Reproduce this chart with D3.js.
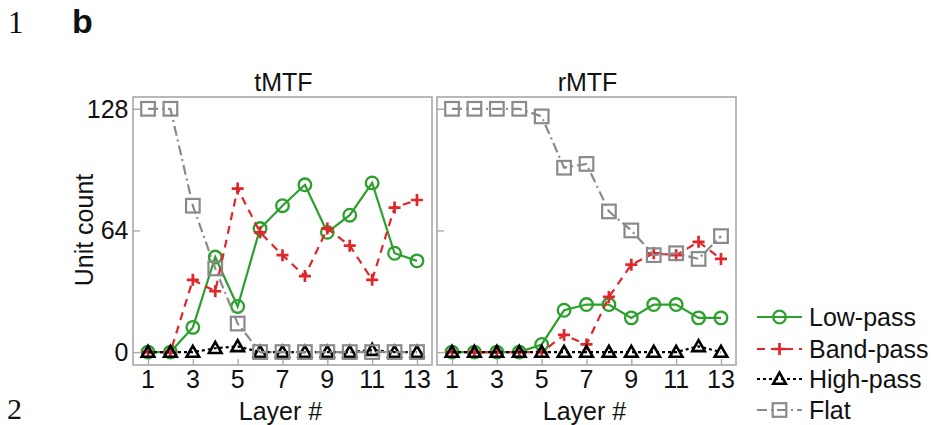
<!DOCTYPE html>
<html>
<head>
<meta charset="utf-8">
<script src="https://cdn.jsdelivr.net/npm/d3@7"></script>
<style>
  html, body { margin: 0; padding: 0; background: #fff; }
  svg { display: block; font-family: "Liberation Sans", Arial, sans-serif; }
</style>
</head>
<body>
<svg id="chart" width="931" height="425"></svg>
<script>
// Layers of the network (x axis)
const layers = [1, 2, 3, 4, 5, 6, 7, 8, 9, 10, 11, 12, 13];
const xTickValues = [1, 3, 5, 7, 9, 11, 13];
const yTickValues = [0, 64, 128];
const panelTitles = ["tMTF", "rMTF"];
const seriesNames = ["Low-pass", "Band-pass", "High-pass", "Flat"];

// Unit counts per layer, temporal MTF
const tLow  = [0, 0, 13, 50, 24, 65, 77, 88, 63, 72, 89, 52, 48];
const tBand = [0, 0, 38, 32, 86, 63, 51, 40, 65, 56, 38, 76, 80];
const tHigh = [0, 0, 0, 2, 3, 0, 0, 0, 0, 0, 1, 0, 0];
const tFlat = [128, 128, 77, 44, 15, 0, 0, 0, 0, 0, 0, 0, 0];

// Unit counts per layer, rate MTF
const rLow  = [0, 0, 0, 0, 4, 22, 25, 25, 18, 25, 25, 18, 18];
const rBand = [0, 0, 0, 0, 0, 9, 4, 29, 46, 52, 51, 58, 49];
const rHigh = [0, 0, 0, 0, 0, 0, 0, 0, 0, 0, 0, 3, 0];
const rFlat = [128, 128, 128, 128, 124, 97, 99, 74, 64, 51, 52, 49, 61];

const panelData = [
  [tLow, tBand, tHigh, tFlat],
  [rLow, rBand, rHigh, rFlat]
];

const styles = [
  { color: "#2ca02c", dash: null,       marker: "circle" },
  { color: "#e0262b", dash: "8,6",      marker: "plus" },
  { color: "#000000", dash: "3,3",      marker: "triangle" },
  { color: "#8a8a8a", dash: "10,4,2,4", marker: "square" }
];

const svg = d3.select("#chart");
const frameColor = "#a9a9a9";
const textColor = "#111";
const fontSize = 25;

const panelW = 299, panelH = 268, panelTop = 97;
const panelLefts = [133, 437];

const y = d3.scaleLinear().domain([-6.8, 134.2]).range([panelTop + panelH, panelTop]);

function drawMarker(g, type, color, cx, cy) {
  if (type === "circle") {
    g.append("circle").attr("cx", cx).attr("cy", cy).attr("r", 6.3)
      .attr("fill", "none").attr("stroke", color).attr("stroke-width", 2.3);
  } else if (type === "plus") {
    const s = 6;
    g.append("path")
      .attr("d", `M${cx - s},${cy}H${cx + s}M${cx},${cy - s}V${cy + s}`)
      .attr("stroke", color).attr("stroke-width", 2.7).attr("fill", "none");
  } else if (type === "triangle") {
    const s = 6.3;
    g.append("path")
      .attr("d", `M${cx},${cy - s}L${cx + s},${cy + s * 0.75}L${cx - s},${cy + s * 0.75}Z`)
      .attr("fill", "none").attr("stroke", color).attr("stroke-width", 2.6)
      .attr("stroke-linejoin", "miter");
  } else if (type === "square") {
    const s = 6.8;
    g.append("rect").attr("x", cx - s).attr("y", cy - s).attr("width", 2 * s).attr("height", 2 * s)
      .attr("fill", "none").attr("stroke", color).attr("stroke-width", 2.2);
  }
}

panelData.forEach((series, pi) => {
  const left = panelLefts[pi];
  const x = d3.scaleLinear().domain([0.33, 13.67]).range([left, left + panelW]);
  const g = svg.append("g");

  // frame
  g.append("rect").attr("x", left).attr("y", panelTop).attr("width", panelW).attr("height", panelH)
    .attr("fill", "none").attr("stroke", frameColor).attr("stroke-width", 1.6);

  // inward ticks
  const xAxis = d3.axisTop(x).tickValues(xTickValues).tickSize(6).tickFormat("");
  const xg = g.append("g").attr("transform", `translate(0,${panelTop + panelH})`).call(xAxis);
  xg.select(".domain").remove();
  xg.selectAll("line").attr("stroke", frameColor).attr("stroke-width", 1.4);

  const yAxis = d3.axisRight(y).tickValues(yTickValues).tickSize(7).tickFormat("");
  const yg = g.append("g").attr("transform", `translate(${left},0)`).call(yAxis);
  yg.select(".domain").remove();
  yg.selectAll("line").attr("stroke", frameColor).attr("stroke-width", 1.4);

  // x tick labels
  g.selectAll(".xl").data(xTickValues).enter().append("text")
    .attr("x", d => x(d)).attr("y", 388)
    .attr("text-anchor", "middle").attr("font-size", fontSize).attr("fill", textColor)
    .text(d => d);

  // x axis title
  g.append("text").attr("x", left + panelW / 2 - 2).attr("y", 420)
    .attr("text-anchor", "middle").attr("font-size", fontSize).attr("fill", textColor)
    .text("Layer #");

  // panel title
  g.append("text").attr("x", left + panelW / 2 + 1).attr("y", 91)
    .attr("text-anchor", "middle").attr("font-size", fontSize).attr("fill", textColor)
    .text(panelTitles[pi]);

  // series
  series.forEach((vals, si) => {
    const st = styles[si];
    const line = d3.line().x((d, i) => x(layers[i])).y(d => y(d));
    g.append("path").datum(vals).attr("d", line)
      .attr("fill", "none").attr("stroke", st.color).attr("stroke-width", 2.2)
      .attr("stroke-dasharray", st.dash);
    const mg = g.append("g");
    vals.forEach((v, i) => drawMarker(mg, st.marker, st.color, x(layers[i]), y(v)));
  });

  if (pi === 0) {
    g.selectAll(".yl").data(yTickValues).enter().append("text")
      .attr("x", left - 4.5).attr("y", d => y(d)).attr("dy", "0.36em")
      .attr("text-anchor", "end").attr("font-size", fontSize).attr("fill", textColor)
      .text(d => d);
  }
});

// y axis title
svg.append("text").attr("transform", "translate(93,230) rotate(-90)")
  .attr("text-anchor", "middle").attr("font-size", fontSize).attr("fill", textColor)
  .text("Unit count");

// panel letter and margin line numbers
svg.append("text").attr("x", 72).attr("y", 33).attr("font-size", 34).attr("font-weight", "bold")
  .attr("fill", textColor).text("b");
svg.append("text").attr("x", 8).attr("y", 33).attr("font-size", 31)
  .attr("font-family", "'Liberation Serif', 'DejaVu Serif', serif").attr("fill", textColor).text("1");
svg.append("text").attr("x", 7).attr("y", 419).attr("font-size", 30)
  .attr("font-family", "'Liberation Serif', 'DejaVu Serif', serif").attr("fill", textColor).text("2");

// legend
const legendRows = [317, 349, 379, 410];
const lg = svg.append("g");
seriesNames.forEach((name, i) => {
  const st = styles[i];
  const yy = legendRows[i];
  lg.append("line").attr("x1", 757).attr("x2", 802).attr("y1", yy).attr("y2", yy)
    .attr("stroke", st.color).attr("stroke-width", 2.2).attr("stroke-dasharray", st.dash);
  drawMarker(lg, st.marker, st.color, 779.5, yy);
  lg.append("text").attr("x", 809).attr("y", yy).attr("dy", "0.36em")
    .attr("font-size", fontSize).attr("fill", textColor).text(name);
});
</script>
</body>
</html>
